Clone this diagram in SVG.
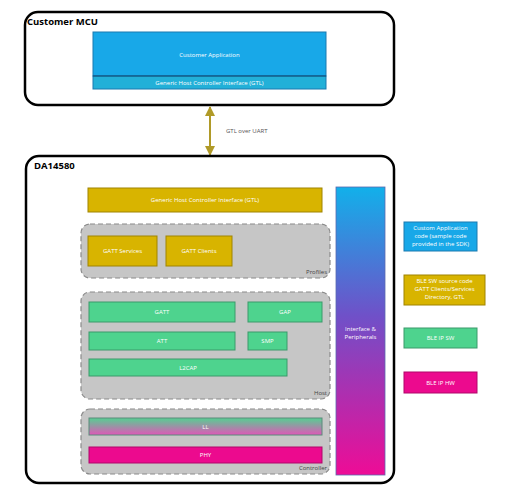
<svg xmlns="http://www.w3.org/2000/svg" width="512" height="493" viewBox="0 0 512 493">
<defs>
<linearGradient id="gIP" x1="0" y1="0" x2="0" y2="1">
<stop offset="0" stop-color="#12b0ea"/>
<stop offset="0.45" stop-color="#7050c8"/>
<stop offset="1" stop-color="#ee0c96"/>
</linearGradient>
<linearGradient id="gLL" x1="0" y1="0" x2="0" y2="1">
<stop offset="0" stop-color="#56cf92"/>
<stop offset="1" stop-color="#e056b8"/>
</linearGradient>
<marker id="ah" viewBox="0 0 10 10" refX="9" refY="5" markerWidth="5" markerHeight="5" orient="auto-start-reverse">
<path d="M0,0 L10,5 L0,10 z" fill="#b09a28"/>
</marker>
</defs>
<style>
text{font-family:"Open Sans","Noto Sans","Liberation Sans",sans-serif;}
.outer{fill:#fff;stroke:#000;stroke-width:2.5;}
.title{font-size:9.5px;font-weight:bold;fill:#000;}
.grp{fill:#c6c6c6;stroke:#8a8a8a;stroke-width:1.2;stroke-dasharray:5 3;}
.glbl{font-size:6px;fill:#444;text-anchor:end;}
.yel{fill:#d8b400;stroke:#a08400;stroke-width:1;}
.grn{fill:#4ed38e;stroke:#3a9a6a;stroke-width:1;}
.blu{fill:#18a8e8;stroke:#1a7ab0;stroke-width:1;}
.pnk{fill:#ec0a8e;stroke:#b0066a;stroke-width:1;}
.t{font-size:6px;fill:#fff;text-anchor:middle;}
</style>
<g id="customer-mcu">
<rect class="outer" x="25" y="12" width="369" height="93" rx="13"/>
<text class="title" x="27" y="25">Customer MCU</text>
</g>
<g id="customer-app">
<rect class="blu" x="93" y="32" width="233" height="44"/>
<text class="t" x="209.5" y="57">Customer Application</text>
</g>
<g id="gtl-mcu">
<rect x="93" y="76" width="233" height="13" fill="#22b0d8" stroke="#1a7ab0" stroke-width="1"/>
<line x1="93" y1="76" x2="326" y2="76" stroke="#0a3a60" stroke-width="0.8"/>
<text class="t" x="209.5" y="85">Generic Host Controller Interface (GTL)</text>
</g>
<g id="connectors">
<line x1="210" y1="107" x2="210" y2="155" stroke="#b09a28" stroke-width="2" marker-start="url(#ah)" marker-end="url(#ah)"/>
<text x="226" y="133" font-size="6" fill="#555">GTL over UART</text>
</g>
<g id="da14580">
<rect class="outer" x="26" y="156" width="368" height="327" rx="13"/>
<text class="title" x="34" y="169">DA14580</text>
</g>
<g id="gtl-da">
<rect class="yel" x="88" y="188" width="234" height="24"/>
<text class="t" x="205" y="202">Generic Host Controller Interface (GTL)</text>
</g>
<g id="profiles">
<rect class="grp" x="81" y="224" width="249" height="54" rx="9"/>
<text class="glbl" x="327" y="274">Profiles</text>
</g>
<g id="gatt-services">
<rect class="yel" x="88" y="236" width="69" height="30"/>
<text class="t" x="122.5" y="253">GATT Services</text>
</g>
<g id="gatt-clients">
<rect class="yel" x="166" y="236" width="66" height="30"/>
<text class="t" x="199" y="253">GATT Clients</text>
</g>
<g id="host">
<rect class="grp" x="81" y="292" width="249" height="107" rx="9"/>
<text class="glbl" x="327" y="395">Host</text>
</g>
<g id="gatt">
<rect class="grn" x="89" y="302" width="146" height="20"/>
<text class="t" x="162" y="314">GATT</text>
</g>
<g id="gap">
<rect class="grn" x="248" y="302" width="74" height="20"/>
<text class="t" x="285" y="314">GAP</text>
</g>
<g id="att">
<rect class="grn" x="89" y="332" width="146" height="18"/>
<text class="t" x="162" y="343">ATT</text>
</g>
<g id="smp">
<rect class="grn" x="248" y="332" width="39" height="18"/>
<text class="t" x="267.5" y="343">SMP</text>
</g>
<g id="l2cap">
<rect class="grn" x="89" y="359" width="198" height="17"/>
<text class="t" x="188" y="369.5">L2CAP</text>
</g>
<g id="controller">
<rect class="grp" x="81" y="409" width="249" height="65" rx="9"/>
<text class="glbl" x="327" y="470">Controller</text>
</g>
<g id="ll">
<rect x="89" y="418" width="233" height="17" fill="url(#gLL)" stroke="#5a8a7a" stroke-width="1"/>
<text class="t" x="205.5" y="428.5">LL</text>
</g>
<g id="phy">
<rect class="pnk" x="89" y="447" width="233" height="16"/>
<text class="t" x="205.5" y="457">PHY</text>
</g>
<g id="interface-peripherals">
<rect x="336" y="187" width="49" height="288" fill="url(#gIP)" stroke="#5a6ab0" stroke-width="0.8"/>
<text class="t" x="360.5" y="331">Interface &amp;</text>
<text class="t" x="360.5" y="339">Peripherals</text>
</g>
<g id="legend-custom-app">
<rect class="blu" x="404" y="222" width="73" height="29"/>
<text class="t" x="440.5" y="230">Custom Application</text>
<text class="t" x="440.5" y="238">code (sample code</text>
<text class="t" x="440.5" y="246">provided in the SDK)</text>
</g>
<g id="legend-ble-sw-src">
<rect class="yel" x="404" y="275" width="81" height="30"/>
<text class="t" x="444.5" y="283">BLE SW source code</text>
<text class="t" x="444.5" y="291">GATT Clients/Services</text>
<text class="t" x="444.5" y="299">Directory, GTL</text>
</g>
<g id="legend-ble-ip-sw">
<rect class="grn" x="404" y="328" width="73" height="20"/>
<text class="t" x="440.5" y="340">BLE IP SW</text>
</g>
<g id="legend-ble-ip-hw">
<rect class="pnk" x="404" y="372" width="73" height="21"/>
<text class="t" x="440.5" y="384.5">BLE IP HW</text>
</g>
</svg>
